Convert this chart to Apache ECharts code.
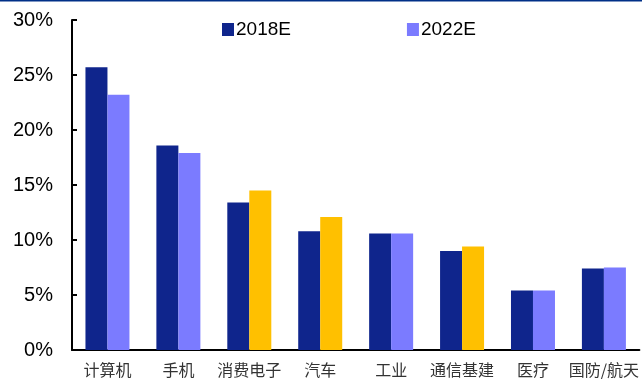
<!DOCTYPE html>
<html>
<head>
<meta charset="utf-8">
<script src="https://cdn.jsdelivr.net/npm/echarts@6/dist/echarts.min.js"></script>
<style>
  html, body { margin: 0; padding: 0; background: #fff; }
  #chart { width: 642px; height: 380px; }
</style>
</head>
<body>
<div id="chart"></div>
<script>
// Industry segments and growth estimates (%)
const categories = ['计算机', '手机', '消费电子', '汽车', '工业', '通信基建', '医疗', '国防/航天'];
const values2018 = [25.7, 18.6, 13.4, 10.8, 10.6, 9.0, 5.4, 7.4];
const values2022 = [23.2, 17.9, 14.5, 12.1, 10.6, 9.4, 5.4, 7.5];
// Segments whose 2022E value rises above 2018E are highlighted
const highlighted = ['消费电子', '汽车', '通信基建'];
const yTicks = [0, 5, 10, 15, 20, 25, 30];

const navy = '#0F258C';
const lilac = '#7B7BFF';
const amber = '#FFC000';

const chart = echarts.init(document.getElementById('chart'), null, { renderer: 'canvas' });

chart.setOption({
  animation: false,
  backgroundColor: '#fff',
  textStyle: { fontFamily: 'Liberation Sans, Arial, sans-serif' },
  graphic: [{
    type: 'line',
    shape: { x1: 0, y1: 0.5, x2: 642, y2: 0.5 },
    style: { stroke: '#003087', lineWidth: 2 }
  }],
  legend: {
    left: 222,
    top: 20,
    padding: 0,
    itemWidth: 12,
    itemHeight: 13,
    itemGap: 116,
    icon: 'rect',
    textStyle: { fontSize: 19, color: '#000', padding: [0, 0, 0, -3] },
    data: ['2018E', '2022E']
  },
  grid: { left: 72, right: 2, top: 20, bottom: 30, containLabel: false },
  xAxis: {
    type: 'category',
    data: categories,
    axisLine: { lineStyle: { color: '#000', width: 2 } },
    axisTick: { inside: true, length: 4, lineStyle: { color: '#000', width: 2 } },
    axisLabel: {
      interval: 0,
      margin: 12,
      fontSize: 16,
      color: '#333',
      fontFamily: 'Noto Sans CJK SC, sans-serif'
    }
  },
  yAxis: {
    type: 'value',
    min: yTicks[0],
    max: yTicks[yTicks.length - 1],
    interval: 5,
    splitLine: { show: false },
    axisLine: { show: true, lineStyle: { color: '#000', width: 2 } },
    axisTick: { show: true, inside: true, length: 5, lineStyle: { color: '#000', width: 2 } },
    axisLabel: {
      margin: 19,
      fontSize: 20,
      color: '#000',
      formatter: v => v + '%'
    }
  },
  series: [
    {
      name: '2018E',
      type: 'bar',
      barWidth: 22,
      barGap: '0%',
      itemStyle: { color: navy },
      data: values2018
    },
    {
      name: '2022E',
      type: 'bar',
      barWidth: 22,
      barGap: '0%',
      itemStyle: { color: lilac },
      data: values2022.map((v, i) => highlighted.includes(categories[i])
        ? { value: v, itemStyle: { color: amber } }
        : v)
    }
  ]
});
</script>
</body>
</html>
